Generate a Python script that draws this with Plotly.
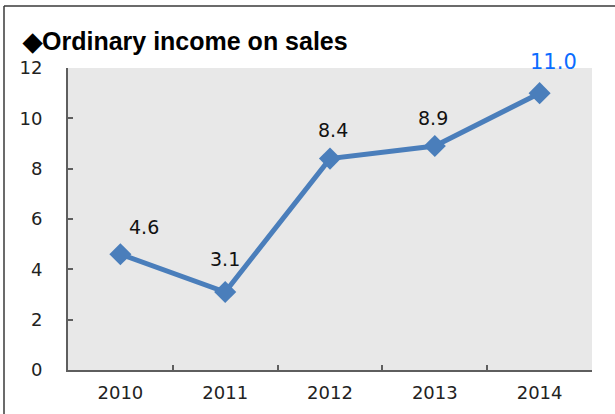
import plotly.graph_objects as go

# Ordinary income on sales, by fiscal year (%)
years = ["2010", "2011", "2012", "2013", "2014"]
income_ratio = [4.6, 3.1, 8.4, 8.9, 11.0]
y_ticks = [0, 2, 4, 6, 8, 10, 12]

# label placement relative to each marker (px)
label_dx = [24, 0, 3, -2, 14]
label_dy = [27, 33, 29, 28, 31]
label_colors = ["#111111", "#111111", "#111111", "#111111", "#0a6cff"]

LINE_BLUE = "#4a7ebb"
AXIS_GREY = "#5e5e5e"
FONT = "DejaVu Sans, Liberation Sans, Arial, sans-serif"

fig = go.Figure()
fig.add_trace(go.Scatter(
    x=years,
    y=income_ratio,
    mode="lines+markers",
    line=dict(color=LINE_BLUE, width=5),
    marker=dict(symbol="diamond", size=17, color=LINE_BLUE),
    hoverinfo="skip",
    showlegend=False,
))

# value labels; positions given as category index on the category axis
for i, (v, dx, dy, c) in enumerate(zip(income_ratio, label_dx, label_dy, label_colors)):
    fig.add_annotation(
        x=i, y=v, text=f"{v:.1f}", showarrow=False,
        xshift=dx, yshift=dy,
        font=dict(family=FONT, size=19 if v < 10 else 21, color=c),
    )

W, H = 615, 414
L, R, T, B = 68, 592, 68, 370


def px(xp):
    return (xp - L) / (R - L)


def py(yp):
    return (B - yp) / (B - T)


# outer frame: top and left edges
frame = dict(type="line", xref="paper", yref="paper", line=dict(color="#3a3a3a", width=1.5))
fig.add_shape(x0=px(4), x1=px(W + 2), y0=py(6), y1=py(6), **frame)
fig.add_shape(x0=px(4), x1=px(4), y0=py(6), y1=py(H + 2), **frame)

fig.add_annotation(
    xref="paper", yref="paper", x=px(20), y=py(41),
    xanchor="left", yanchor="middle", showarrow=False,
    text="<b>◆Ordinary income on sales</b>",
    font=dict(family="Liberation Sans, Arial, sans-serif", size=25, color="#000000"),
)

fig.update_layout(
    width=W, height=H,
    margin=dict(l=L, r=W - R, t=T, b=H - B, pad=0, autoexpand=False),
    paper_bgcolor="#ffffff",
    plot_bgcolor="#e8e8e8",
    font=dict(family=FONT, size=18, color="#222222"),
)

fig.update_xaxes(
    type="category", range=[-0.5, 4.5], automargin=False,
    tickson="boundaries", ticks="inside", ticklen=5, tickwidth=1.5, tickcolor=AXIS_GREY,
    showline=True, linecolor=AXIS_GREY, linewidth=2,
    showgrid=False, zeroline=False,
    ticklabelstandoff=5,
    tickfont=dict(family=FONT, size=18, color="#222222"),
)
fig.update_yaxes(
    range=[0, 12], tickvals=y_ticks, automargin=False,
    ticks="inside", ticklen=5, tickwidth=1.5, tickcolor=AXIS_GREY,
    showline=True, linecolor=AXIS_GREY, linewidth=2,
    showgrid=False, zeroline=False,
    ticklabelstandoff=20,
    tickfont=dict(family=FONT, size=18, color="#222222"),
)

fig.write_html("out.html")
